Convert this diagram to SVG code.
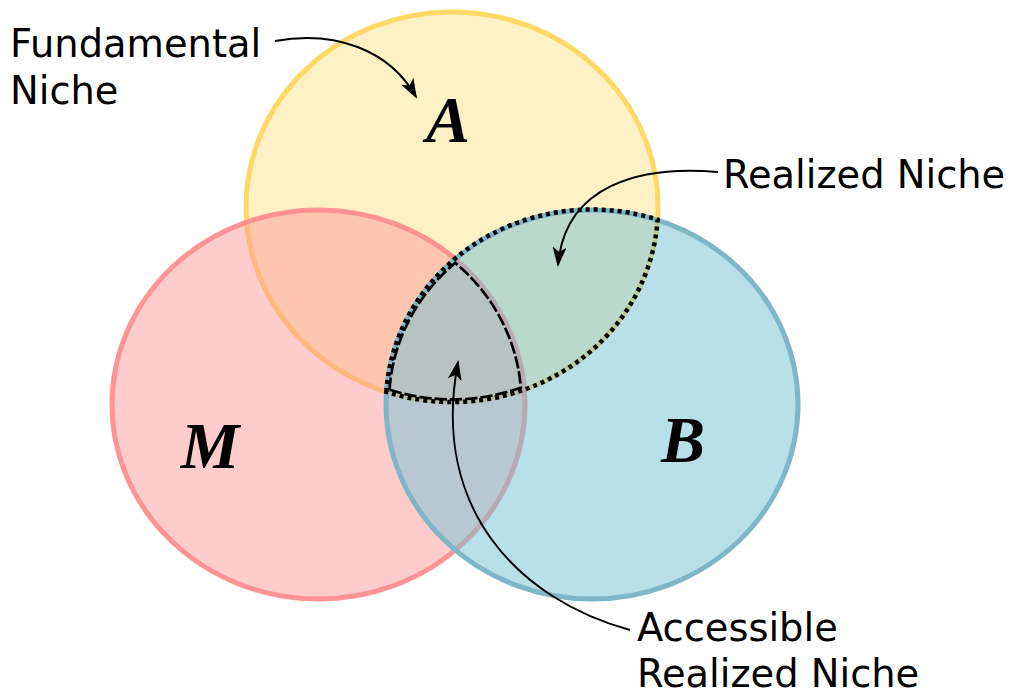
<svg xmlns="http://www.w3.org/2000/svg" width="1010" height="693" viewBox="0 0 1010 693">
<defs>
<style>
.lbl{font-family:"DejaVu Sans",sans-serif;font-size:38.4px;fill:#000}
.big{font-family:"Liberation Serif",serif;font-style:italic;font-weight:bold;font-size:66px;fill:#000}
.conn{fill:none;stroke:#000;stroke-width:2}
</style>
<marker id="arr" viewBox="0 0 20 14" refX="18" refY="7" markerWidth="20" markerHeight="14" markerUnits="userSpaceOnUse" orient="auto">
<path d="M0 0 L20 7 L0 14 L5 7 Z" fill="#000"/>
</marker>
</defs>
<rect width="1010" height="693" fill="#fff"/>
<g id="circle-A">
<ellipse cx="452" cy="207" rx="206" ry="195" fill="#ffd966" fill-opacity="0.38" stroke="#ffd966" stroke-width="5"/>
</g>
<g id="circle-M">
<ellipse cx="318.5" cy="404.5" rx="206.5" ry="194.5" fill="#ff9999" fill-opacity="0.5" stroke="#ff8f8f" stroke-opacity="0.95" stroke-width="5"/>
</g>
<g id="circle-B">
<ellipse cx="592" cy="404.5" rx="206" ry="194.5" fill="#72c1d4" fill-opacity="0.5" stroke="#7fb6c8" stroke-width="5"/>
</g>
<g id="realized-niche-region">
<path d="M386.4 391.9 A206 194.5 0 0 1 657.6 219.6 A206 195 0 0 1 386.4 391.9 Z" fill="none" stroke="#000" stroke-width="4.5" stroke-dasharray="4 4"/>
</g>
<g id="accessible-region">
<path transform="translate(455 345) scale(0.955) translate(-455 -345)" d="M386.4 391.9 A206 194.5 0 0 1 455.25 259 A206.5 194.5 0 0 1 523.9 389.7 A206 195 0 0 1 386.4 391.9 Z" fill="none" stroke="#000" stroke-width="2.8" stroke-dasharray="13 3"/>
</g>
<g id="label-A"><text class="big" x="448" y="142" text-anchor="middle">A</text></g>
<g id="label-M"><text class="big" x="210" y="468" text-anchor="middle">M</text></g>
<g id="label-B"><text class="big" x="683" y="462" text-anchor="middle">B</text></g>
<g id="label-fundamental"><text class="lbl" x="10" y="57">Fundamental</text><text class="lbl" x="10" y="104">Niche</text></g>
<g id="label-realized"><text class="lbl" x="723" y="188">Realized Niche</text></g>
<g id="label-accessible"><text class="lbl" x="637" y="641">Accessible</text><text class="lbl" x="637" y="687">Realized Niche</text></g>
<g id="connectors">
<path class="conn" d="M275 41 C335 30 390 50 416 97" marker-end="url(#arr)"/>
<path class="conn" d="M718 172 C640 165 565 185 558 265" marker-end="url(#arr)"/>
<path class="conn" d="M630 630 C520 600 430 510 458 362" marker-end="url(#arr)"/>
</g>
</svg>
